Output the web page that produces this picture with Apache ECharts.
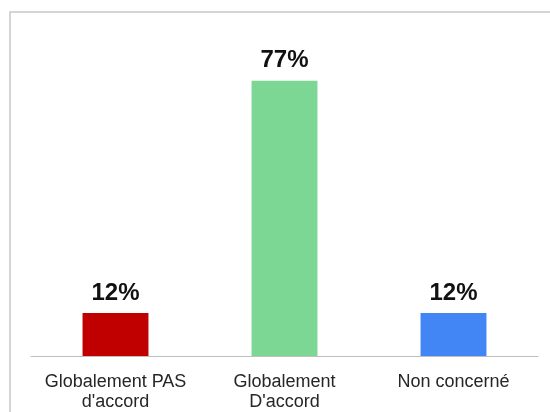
<!DOCTYPE html>
<html>
<head>
<meta charset="utf-8">
<script src="https://cdn.jsdelivr.net/npm/echarts@6/dist/echarts.min.js"></script>
<style>
html,body{margin:0;padding:0;background:#fff;}
#c{width:550px;height:412px;}
</style>
</head>
<body>
<div id="c"></div>
<script>
const categories = ["Globalement PAS\nd'accord", "Globalement\nD'accord", "Non concerné"];
const values = [12, 77, 12];
const barColors = ["#C00000", "#7DD794", "#4285F4"];

const chart = echarts.init(document.getElementById('c'), null, {renderer: 'canvas'});
chart.setOption({
  animation: false,
  backgroundColor: '#ffffff',
  graphic: [{
    type: 'rect',
    shape: {x: 10, y: 12, width: 600, height: 500},
    style: {fill: 'none', stroke: '#c8c8c8', lineWidth: 1.5},
    silent: true
  }],
  grid: {left: 31, right: 12, top: 70, bottom: 56},
  xAxis: {
    type: 'category',
    data: categories,
    axisLine: {show: true, lineStyle: {color: '#bfbfbf', width: 1}},
    axisTick: {show: false},
    axisLabel: {
      interval: 0,
      margin: 16,
      fontFamily: 'Liberation Sans, Arial, sans-serif',
      fontSize: 18,
      lineHeight: 20,
      color: '#262626'
    }
  },
  yAxis: {
    type: 'value',
    min: 0,
    max: 80,
    show: false,
    splitLine: {show: false}
  },
  series: [{
    type: 'bar',
    barWidth: '39%',
    data: values.map((v, i) => ({value: v, itemStyle: {color: barColors[i]}})),
    label: {
      show: true,
      position: 'top',
      distance: 8,
      formatter: p => p.value + '%',
      fontFamily: 'Liberation Sans, Arial, sans-serif',
      fontWeight: 'bold',
      fontSize: 24,
      lineHeight: 24,
      color: '#111111'
    }
  }]
});
</script>
</body>
</html>
